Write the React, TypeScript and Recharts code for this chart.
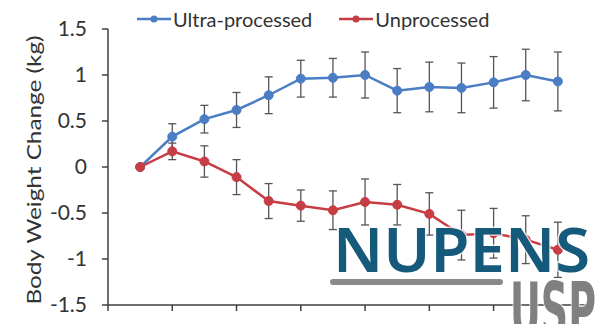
import { LineChart, Line, XAxis, YAxis, ErrorBar, Legend } from 'recharts';

// study day (1..14) and mean body weight change in kg, with SEM
const days = [1, 2, 3, 4, 5, 6, 7, 8, 9, 10, 11, 12, 13, 14];
const ultraProcessed = [0, 0.33, 0.52, 0.62, 0.78, 0.96, 0.97, 1.0, 0.83, 0.87, 0.86, 0.92, 1.0, 0.93];
const ultraErr = [0, 0.14, 0.15, 0.19, 0.2, 0.2, 0.21, 0.25, 0.24, 0.27, 0.27, 0.28, 0.28, 0.32];
const unprocessed = [0, 0.17, 0.06, -0.11, -0.37, -0.42, -0.47, -0.38, -0.41, -0.51, -0.74, -0.72, -0.79, -0.9];
const unprocessedErr = [0, 0.09, 0.17, 0.19, 0.19, 0.17, 0.21, 0.25, 0.22, 0.23, 0.27, 0.27, 0.26, 0.3];
const xTicks = [0, 2, 4, 6, 8, 10, 12, 14];
const yTicks = [-1.5, -1, -0.5, 0, 0.5, 1, 1.5];
const seriesNames = ['Ultra-processed', 'Unprocessed'];
const yTitle = 'Body Weight Change (kg)';

const data = days.map((d, i) => ({
	day: d,
	ultra: ultraProcessed[i],
	ultraErr: ultraErr[i],
	unproc: unprocessed[i],
	unprocErr: unprocessedErr[i],
}));

const FONT = 'Lato, "Open Sans", sans-serif';
const TEXT = '#333';
const AXIS = '#3f3f3f';
const BLUE = '#4a7dc4';
const RED = '#c63d44';

const renderLegend = (props: any) => {
	const { payload } = props;
	return (
		<div style={{ display: 'flex', alignItems: 'center', fontFamily: FONT, fontSize: 20, color: TEXT, lineHeight: '22px' }}>
			{payload.map((p: any, i: number) => (
				<div key={p.value} style={{ display: 'flex', alignItems: 'center', marginRight: i === 0 ? 27 : 0 }}>
					<svg width={34} height={10} style={{ display: 'block' }}>
						<line x1={0} y1={5} x2={34} y2={5} stroke={p.color} strokeWidth={2.5} />
						<circle cx={17} cy={5} r={3.5} fill={p.color} />
					</svg>
					<span style={{ marginLeft: 2 }}>{p.value}</span>
				</div>
			))}
		</div>
	);
};

// the source image is stretched vertically, so the rotated title is drawn a bit elongated
const YTitle = () => (
	<text
		transform="translate(34,170) rotate(-90) scale(1.28,1)"
		textAnchor="middle"
		dominantBaseline="central"
		fontFamily={FONT}
		fontSize={19}
		fill={TEXT}
	>
		{yTitle}
	</text>
);

export default function App() {
	return (
		<div style={{ position: 'absolute', left: 0, top: 0, width: 595, height: 324, background: '#fff' }}>
			<LineChart width={595} height={324} data={data} margin={{ top: 29, right: 5, bottom: 0, left: 0 }}>
				<XAxis
					type="number"
					dataKey="day"
					domain={[0, 15]}
					ticks={xTicks}
					height={19}
					tickSize={6}
					tickFormatter={() => ''}
					stroke={AXIS}
					strokeWidth={1.5}
				/>
				<YAxis
					type="number"
					domain={[-1.5, 1.5]}
					ticks={yTicks}
					width={108}
					tickSize={6}
					tickMargin={15}
					stroke={AXIS}
					strokeWidth={1.5}
					tick={{ fill: TEXT, fontFamily: FONT, fontSize: 21 }}
					label={<YTitle />}
				/>
				<Legend
					verticalAlign="middle"
					align="center"
					content={renderLegend}
					wrapperStyle={{ top: 8, left: 137, width: 450 }}
				/>
				<Line
					dataKey="ultra"
					name={seriesNames[0]}
					stroke={BLUE}
					strokeWidth={2.5}
					dot={{ r: 4.5, fill: BLUE, stroke: BLUE, strokeWidth: 1 }}
					isAnimationActive={false}
				>
					<ErrorBar dataKey="ultraErr" direction="y" width={4} stroke="#555" strokeWidth={1.3} isAnimationActive={false} />
				</Line>
				<Line
					dataKey="unproc"
					name={seriesNames[1]}
					stroke={RED}
					strokeWidth={2.5}
					dot={{ r: 4.5, fill: RED, stroke: RED, strokeWidth: 1 }}
					isAnimationActive={false}
				>
					<ErrorBar dataKey="unprocErr" direction="y" width={4} stroke="#555" strokeWidth={1.3} isAnimationActive={false} />
				</Line>
			</LineChart>
			{/* NUPENS / USP watermark logo */}
			<svg width={595} height={324} style={{ position: 'absolute', left: 0, top: 0, pointerEvents: 'none' }}>
				<text
					x={333}
					y={272}
					fontFamily='"Noto Sans", sans-serif'
					fontWeight={600}
					fontSize={62}
					fill="#165a7b"
					textLength={257}
					lengthAdjust="spacingAndGlyphs"
					stroke="#fff"
					strokeWidth={3}
					strokeOpacity={0.7}
					paintOrder="stroke"
				>
					NUPENS
				</text>
				<rect x={330} y={279} width={173} height={6} rx={3} fill="#8a8a8a" />
				<text
					x={510}
					y={336}
					fontFamily='"DejaVu Sans Condensed", "DejaVu Sans", sans-serif'
					fontWeight="bold"
					fontSize={74}
					fill="#808080"
					textLength={86}
					lengthAdjust="spacingAndGlyphs"
					stroke="#fff"
					strokeWidth={3}
					strokeOpacity={0.7}
					paintOrder="stroke"
				>
					USP
				</text>
			</svg>
		</div>
	);
}
